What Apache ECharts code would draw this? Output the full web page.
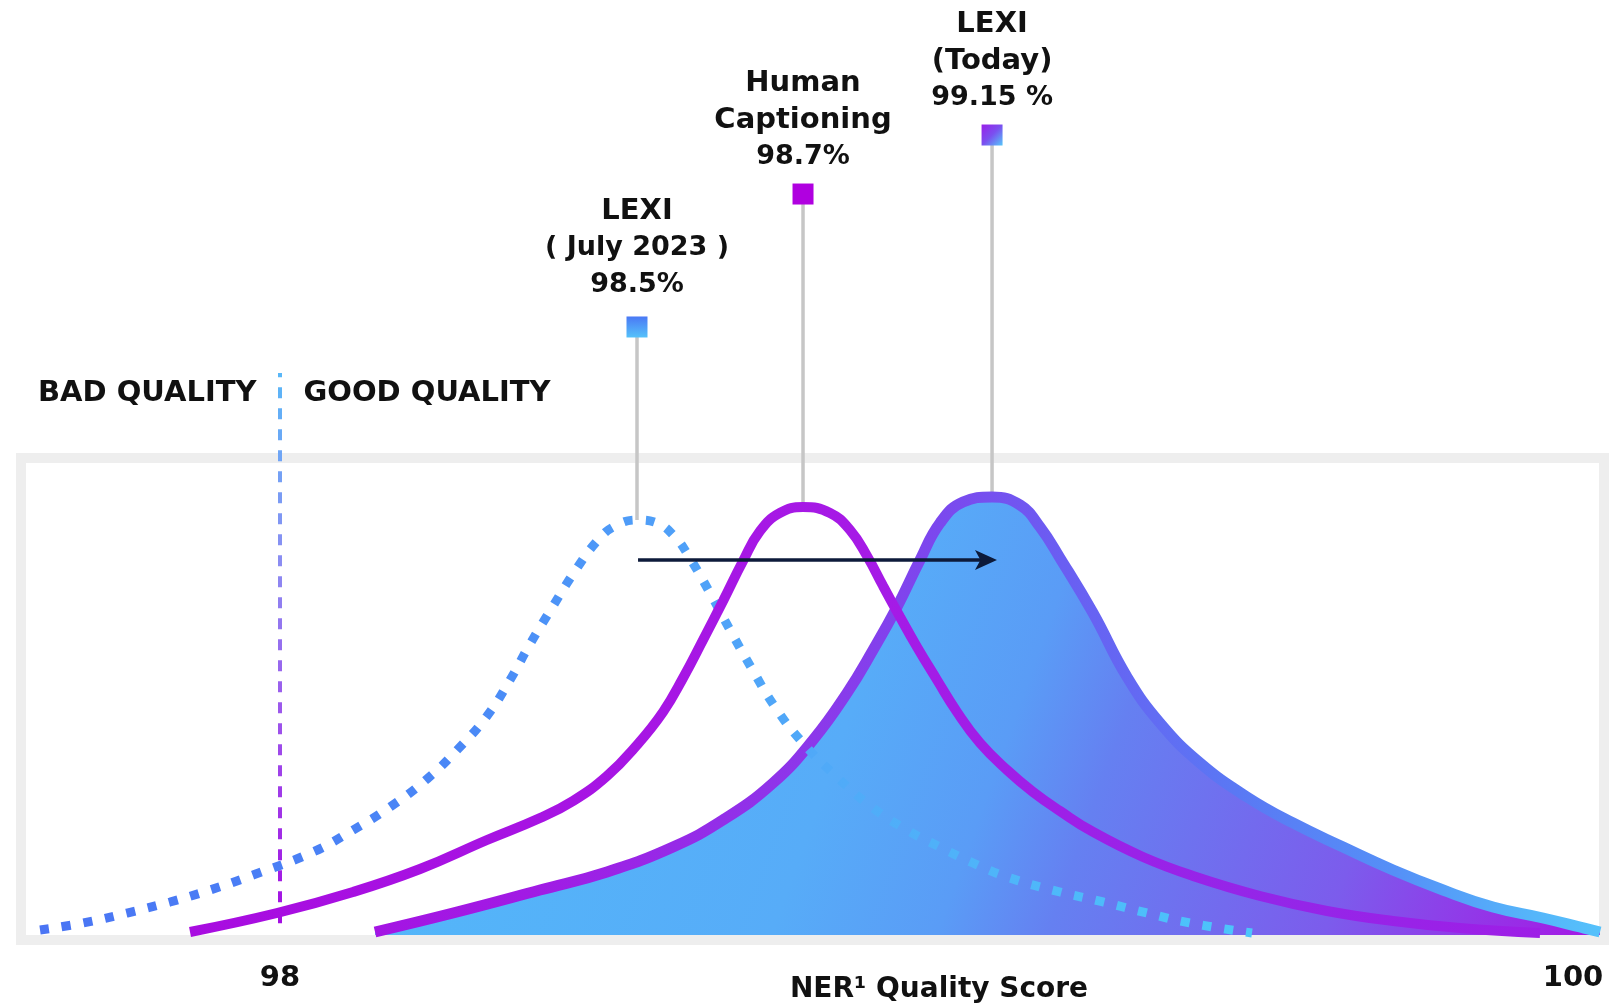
<!DOCTYPE html>
<html><head><meta charset="utf-8">
<script src="https://cdn.jsdelivr.net/npm/echarts@6/dist/echarts.min.js"></script>
<style>html,body{margin:0;padding:0;background:#fff;}#c{width:1613px;height:1007px;}</style>
</head><body><div id="c"></div>
<script>
// ---- data (x = NER quality score, y = relative frequency, arbitrary units) ----
const xTickLabels = [98, 100];
const axisName = 'NER\u00B9 Quality Score';

const julyX = [97.6288, 97.6953, 97.7634, 97.8299, 97.8918, 97.9583, 98.0511, 98.1130, 98.1702, 98.2274,
  98.2754, 98.3202, 98.3558, 98.3867, 98.4223, 98.4563, 98.4919, 98.5182, 98.5522, 98.5832,
  98.6110, 98.6311, 98.6652, 98.6961, 98.7301, 98.7657, 98.8075, 98.8631, 98.9173, 98.9699,
  99.0209, 99.0720, 99.1246, 99.2065, 99.2731, 99.3411, 99.4076, 99.5035];
const julyY = [1.06, 2.55, 4.67, 7.01, 9.55, 12.74, 17.62, 22.29, 27.18, 33.12,
  39.49, 46.50, 54.14, 61.78, 69.85, 77.28, 83.86, 86.84, 88.11, 87.47,
  84.50, 80.68, 72.61, 64.76, 56.48, 48.41, 40.98, 33.33, 26.96, 22.29,
  18.68, 15.29, 12.31, 9.13, 7.01, 4.67, 2.55, 0.42];

const humanX = [97.8608, 97.9954, 98.1130, 98.2166, 98.3202, 98.4022, 98.4532, 98.5058, 98.5522, 98.5925,
  98.6234, 98.6543, 98.6853, 98.7162, 98.7425, 98.7734, 98.8090, 98.8508, 98.8817, 98.9080,
  98.9328, 98.9591, 98.9853, 99.0163, 99.0472, 99.0828, 99.1246, 99.1648, 99.2065, 99.2576,
  99.3349, 99.4123, 99.5159, 99.6195, 99.7216, 99.8253, 99.9490];
const humanY = [0.64, 4.67, 9.13, 14.01, 20.17, 24.84, 28.45, 33.76, 40.34, 47.35,
  54.56, 62.63, 70.91, 79.41, 85.77, 89.60, 90.87, 89.60, 85.99, 80.47,
  74.10, 67.52, 61.15, 54.14, 47.35, 40.76, 35.03, 30.36, 26.33, 21.87,
  16.56, 12.53, 8.28, 5.10, 2.97, 1.49, 0.42];

const todayX = [98.1470, 98.2676, 98.4022, 98.5058, 98.6079, 98.6853, 98.7626, 98.8245, 98.8771, 98.9173,
  98.9544, 98.9900, 99.0209, 99.0565, 99.1014, 99.1447, 99.1756, 99.2065, 99.2576, 99.3102,
  99.3612, 99.4231, 99.4958, 99.5669, 99.6443, 99.7216, 99.7990, 99.8763, 99.9536, 100.0109, 100.0418];
const todayY = [0.64, 4.67, 9.55, 13.38, 18.68, 24.42, 32.27, 41.40, 51.38, 60.51,
  69.64, 79.62, 87.47, 91.93, 92.99, 91.29, 86.62, 80.04, 68.36, 54.78,
  45.01, 36.52, 29.30, 23.78, 18.68, 13.80, 9.55, 5.94, 3.61, 1.70, 0.64];

// callouts
const peakNames = ['LEXI\n( July 2023 )\n98.5%', 'Human\nCaptioning\n98.7%', 'LEXI\n(Today)\n99.15 %'];
const peakX = [98.5522, 98.8090, 99.1014];
const peakY = [88.11, 90.87, 92.99];
const markerY = [129.09, 157.32, 169.85];

// threshold
const thresholdX = 98;
const thresholdY = [2.5, 119.3];
const qualityLabels = ['BAD QUALITY', 'GOOD QUALITY'];
const qualityLabelY = 114.97;

// shift arrow (shaft start, shaft end, head centre)
const arrowX = [98.5538, 99.0936, 99.1090];
const arrowY = 79.62;

// ---- styles ----
const FONT = 'DejaVu Sans';
const TXT = '#111111';
const LG = echarts.graphic.LinearGradient;
const stops = a => a.map(([o, c]) => ({offset: o, color: c}));
const zip = (xs, ys) => xs.map((x, i) => [x, ys[i]]);

const todayStroke = new LG(0, 0, 1, 0, stops([[0,'#a414e3'],[0.13,'#a11be4'],[0.36,'#8c38ea'],[0.46,'#7b48ee'],[0.5,'#7650ef'],[0.56,'#6a5ef2'],[0.7,'#5a78f4'],[0.83,'#5590f7'],[0.94,'#55b5fa'],[1,'#55c2fb']]));
const todayFill = new LG(0, 0, 1, 1, stops([[0,'#52bafa'],[0.4,'#57acf8'],[0.52,'#5a9cf6'],[0.6,'#6580f1'],[0.8,'#7c5cec'],[1,'#a616e4']]));
const humanStroke = new LG(0, 0, 1, 0, stops([[0,'#a80ce0'],[0.5,'#a61ae6'],[0.8,'#9426e8'],[1,'#9e1ee6']]));
const julyStroke = new LG(0, 0, 1, 0, stops([[0,'#4a74f4'],[0.35,'#4a88f6'],[0.5,'#4f9ef8'],[0.65,'#50aaf8'],[1,'#4cc6fb']]));
const thresholdStroke = new LG(0, 0, 0, 1, stops([[0,'#58b8f8'],[0.35,'#8c8cf2'],[0.6,'#9c5aec'],[1,'#a40ce2']]));
const squareColors = [
  new LG(0, 0, 0, 1, stops([[0,'#4a78f5'],[1,'#55c2fa']])),
  '#b000e0',
  new LG(0, 0, 1, 1, stops([[0,'#9a1ee8'],[0.5,'#7a50ef'],[1,'#55c8fa']]))
];
const labelGap = [13, 8, 8];
const textStyle = {fontFamily: FONT, fontWeight: 'bold', fontSize: 29, color: TXT};
const NAVY = '#0d1a3a';

const series = [];
// stems
peakX.forEach((x, i) => {
  series.push({type: 'line', data: [[x, markerY[i]], [x, peakY[i]]], symbol: 'none', clip: false, z: 1,
    lineStyle: {color: '#c6c6c6', width: 3.5}, silent: true});
});
// threshold dashed line
series.push({type: 'line', data: thresholdY.map(y => [thresholdX, y]), symbol: 'none', clip: false, z: 1,
  lineStyle: {color: thresholdStroke, width: 4, type: [11, 10], cap: 'butt'}, silent: true});
// LEXI today (filled)
series.push({name: 'LEXI (Today)', type: 'line', data: zip(todayX, todayY), smooth: 0.45, symbol: 'none', z: 2,
  lineStyle: {color: todayStroke, width: 11}, areaStyle: {color: todayFill, opacity: 1}, silent: true});
// LEXI July 2023 (dotted)
series.push({name: 'LEXI (July 2023)', type: 'line', data: zip(julyX, julyY), smooth: 0.45, symbol: 'none', z: 3,
  lineStyle: {color: julyStroke, width: 9, type: [9, 13], cap: 'butt'}, silent: true});
// Human captioning
series.push({name: 'Human Captioning', type: 'line', data: zip(humanX, humanY), smooth: 0.45, symbol: 'none', z: 4,
  lineStyle: {color: humanStroke, width: 10}, silent: true});
// markers + labels
const richLine = size => Object.assign({}, textStyle, {fontSize: size, lineHeight: 37, align: 'center'});
series.push({type: 'scatter', symbol: 'rect', symbolSize: 21, clip: false, z: 5, silent: true,
  itemStyle: {opacity: 1},
  data: peakNames.map((n, i) => ({name: n, value: [peakX[i], markerY[i]], itemStyle: {color: squareColors[i], opacity: 1},
    label: {distance: labelGap[i]}})),
  label: Object.assign({show: true, position: 'top', lineHeight: 37, align: 'center', opacity: 1,
    formatter: p => p.name.split('\n').map(l => /\d/.test(l) ? '{n|' + l + '}' : '{t|' + l + '}').join('\n'),
    rich: {t: richLine(29), n: richLine(27)}}, textStyle)});
// quality labels
series.push({type: 'scatter', symbolSize: 1, clip: false, z: 5, silent: true, itemStyle: {color: 'rgba(0,0,0,0)', opacity: 1},
  data: qualityLabels.map((n, i) => ({name: n, value: [thresholdX, qualityLabelY],
    label: {position: i === 0 ? 'left' : 'right', distance: 23}})),
  label: Object.assign({show: true, formatter: '{b}', opacity: 1}, textStyle)});
// arrow shaft
series.push({type: 'line', data: [[arrowX[0], arrowY], [arrowX[1], arrowY]], symbol: 'none', z: 6, silent: true,
  lineStyle: {color: NAVY, width: 3.5}});
// arrow head
series.push({type: 'scatter', data: [[arrowX[2], arrowY]], symbol: 'arrow', symbolSize: [15, 22], symbolRotate: -90,
  z: 6, silent: true, itemStyle: {color: NAVY, opacity: 1}});

const chart = echarts.init(document.getElementById('c'));
chart.setOption({
  animation: false,
  backgroundColor: '#ffffff',
  grid: {left: 21, right: 9, top: 458, bottom: 67, show: true, borderColor: '#eeeeee', borderWidth: 10,
    backgroundColor: 'transparent', containLabel: false, outerBoundsMode: 'none'},
  xAxis: {type: 'value', min: 97.59938, max: 100.04795,
    axisLine: {show: false}, axisTick: {show: false}, splitLine: {show: false},
    axisLabel: Object.assign({customValues: xTickLabels, margin: 24, formatter: v => String(v)}, textStyle),
    name: axisName, nameLocation: 'middle', nameGap: 36, nameMoveOverlap: false,
    nameTextStyle: Object.assign({}, textStyle, {fontSize: 28, padding: [0, 0, 0, 253]})},
  yAxis: {type: 'value', min: -1.0616, max: 101.2739, show: false},
  series: series
});
</script></body></html>
